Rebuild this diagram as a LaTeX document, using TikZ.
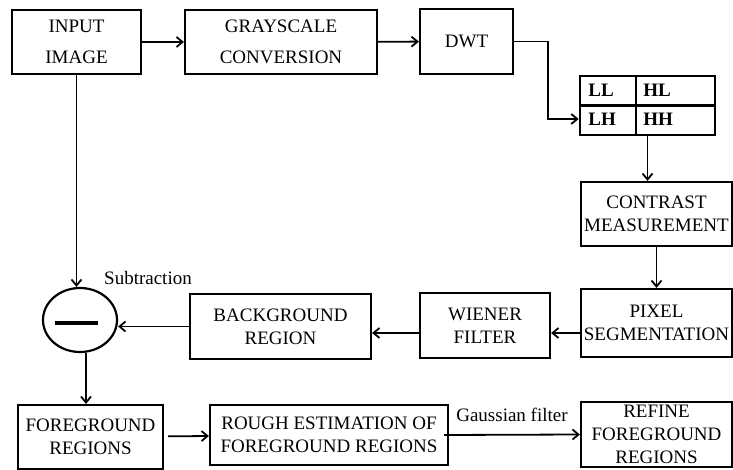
\documentclass[tikz,border=0pt]{standalone}
\usepackage{fontspec}
\setmainfont{Liberation Serif}
\usetikzlibrary{arrows.meta,calc,shapes.geometric}
\tikzset{
  blk/.style={draw=black,line width=1.1pt,align=center,inner sep=0pt,font=\fontsize{9.5}{11.5}\selectfont},
  topblk/.style={blk,font=\fontsize{9.5}{15.5}\selectfont},
  arr/.style={-{Straight Barb[length=3pt,width=5pt]},line width=0.9pt},
  band/.style={anchor=west,inner sep=0pt,font=\fontsize{9.5}{11}\selectfont\bfseries},
}

\begin{document}
\begin{tikzpicture}[x=0.5pt,y=-0.5pt]
  \useasboundingbox (0,0) rectangle (733,470);
  % first row
  \node[topblk,minimum width=64.5pt,minimum height=32pt] (input) at (76.5,42) {INPUT\\IMAGE};
  \node[topblk,minimum width=96pt,minimum height=32pt] (gray) at (281,42) {GRAYSCALE\\CONVERSION};
  \node[topblk,minimum width=46.5pt,minimum height=32.5pt] (dwt) at (466.5,41.5) {DWT};
  % wavelet sub-bands
  \node[draw=black,line width=1.35pt,minimum width=67.5pt,minimum height=29.5pt,inner sep=0pt] (bands) at (647.5,105.5) {};
  \draw[line width=0.8pt] (636,76) -- (636,135);
  \draw[line width=1.35pt] (bands.west) -- ++(137,0);
  \node[band] (ll) at (588,90) {LL};
  \node[band] (hl) at (643,90) {HL};
  \node[band] (lh) at (588,119) {LH};
  \node[band] (hh) at (643,119) {HH};
  % right column
  \node[blk,minimum width=75.5pt,minimum height=32pt] (contrast) at (656.5,214) {CONTRAST\\MEASUREMENT};
  \node[blk,minimum width=75.5pt,minimum height=34pt] (pixel) at (656.5,323) {PIXEL\\SEGMENTATION};
  \node[blk,minimum width=65pt,minimum height=32.5pt] (wiener) at (485,325.5) {WIENER\\FILTER};
  \node[blk,minimum width=90.5pt,minimum height=32.5pt] (bg) at (280.5,326.5) {BACKGROUND\\REGION};
  % subtraction
  \node[draw=black,ellipse,line width=1.1pt,minimum width=37pt,minimum height=32pt,inner sep=0pt] (sub) at (80,320) {};
  \draw[line width=2pt] ($(sub.center)+(-25,3)$) -- ($(sub.center)+(18,3)$);
  \node[font=\fontsize{9.5}{11}\selectfont,inner sep=0pt] (sublbl) at (148,278) {Subtraction};
  % last row
  \node[blk,minimum width=72.5pt,minimum height=32pt] (fg) at (90.5,437) {FOREGROUND\\REGIONS};
  \node[blk,minimum width=119pt,minimum height=30pt] (rough) at (329,435) {ROUGH ESTIMATION OF\\FOREGROUND REGIONS};
  \node[blk,minimum width=75.5pt,minimum height=32.5pt] (refine) at (656.5,434.5) {REFINE\\FOREGROUND\\REGIONS};

  \draw[arr] (input) -- (gray);
  \draw[arr] (gray) -- (dwt);
  \draw[arr] (dwt.east) -- ++(34,0) |- (bands.west |- lh);
  \draw[arr] (bands.south) -- (bands.south |- contrast.north);
  \draw[arr] (contrast) -- (pixel);
  \draw[arr] ([yshift=-5pt]pixel.west) -- ([yshift=-5pt]pixel.west -| wiener.east);
  \draw[arr] ([yshift=-5pt]pixel.west -| wiener.west) -- ([yshift=-5pt]pixel.west -| bg.east);
  \draw[arr] (bg.west) -- (bg.west -| sub.east);
  \draw[arr] (input.south) -- (input.south |- sub.north);
  \draw[arr] ([xshift=3pt]sub.south) -- ([xshift=3pt]sub.south |- fg.north);
  \draw[arr,shorten <=2pt] (fg) -- (rough);
  \draw[arr] ([xshift=-2.5pt]rough.east) -- (refine.west)
    node[midway,above=3pt,font=\fontsize{9.5}{11}\selectfont] {Gaussian filter};
\end{tikzpicture}
\end{document}
